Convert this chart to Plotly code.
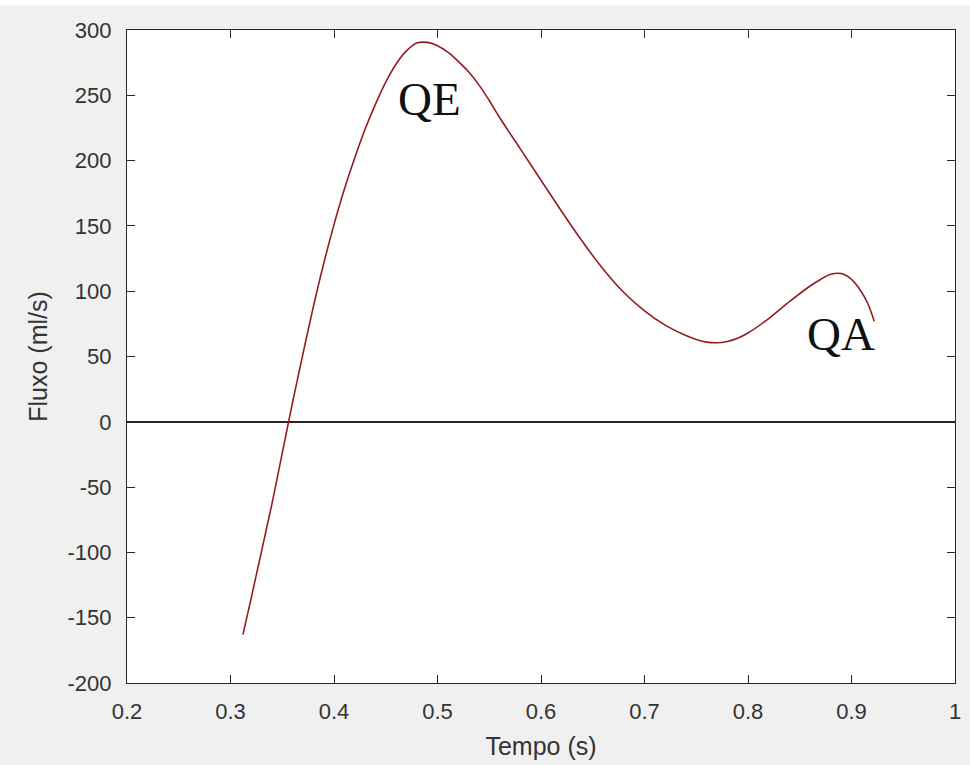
import plotly.graph_objects as go

# Data
tempo = [0.312, 0.320, 0.330, 0.340, 0.350, 0.360, 0.370, 0.380, 0.390,
         0.400, 0.410, 0.420, 0.430, 0.440, 0.450, 0.460, 0.470, 0.480,
         0.490, 0.500, 0.510, 0.520, 0.530, 0.540, 0.550, 0.560, 0.580, 0.600,
         0.620, 0.640, 0.660, 0.680, 0.700, 0.720, 0.740, 0.750, 0.760, 0.770,
         0.780, 0.790, 0.800, 0.820, 0.840, 0.860, 0.870, 0.880, 0.890, 0.900,
         0.910, 0.916, 0.922]
fluxo = [-163, -135, -99, -63, -24, 15, 52, 88, 121,
         151, 178, 202, 224, 243, 260, 274, 284, 290,
         290.5, 288, 283, 276, 268, 258, 246, 233, 209, 185,
         161, 138, 117, 99, 85, 74, 66, 63, 61, 60.5,
         61.5, 64, 68, 79, 92, 104, 109, 113, 113.5, 109,
         99, 90, 77]

x_ticks = [0.2, 0.3, 0.4, 0.5, 0.6, 0.7, 0.8, 0.9, 1.0]
x_tick_labels = ["0.2", "0.3", "0.4", "0.5", "0.6", "0.7", "0.8", "0.9", "1"]
y_ticks = [-200, -150, -100, -50, 0, 50, 100, 150, 200, 250, 300]
y_tick_labels = ["-200", "-150", "-100", "-50", "0", "50", "100", "150", "200", "250", "300"]

labels = ["QE", "QA"]
label_x = [0.492, 0.890]
label_y = [247, 67]

fig = go.Figure()
fig.add_trace(go.Scatter(
    x=tempo, y=fluxo, mode="lines",
    line=dict(color="#951c1f", width=1.6, shape="spline", smoothing=1.0),
    showlegend=False, hoverinfo="skip"))

for t, lx, ly in zip(labels, label_x, label_y):
    fig.add_annotation(x=lx, y=ly, text=t, showarrow=False,
                       font=dict(family="Liberation Serif", size=47, color="#111111"),
                       xanchor="center", yanchor="middle")

axis_common = dict(
    showline=True, linecolor="#262626", linewidth=1.3, mirror="ticks",
    ticks="inside", ticklen=8, tickwidth=1.2, tickcolor="#262626",
    showgrid=False, automargin=False,
    tickfont=dict(family="Liberation Sans", size=22, color="#333333"),
)

fig.update_xaxes(range=[0.2, 1.0], tickvals=x_ticks, ticktext=x_tick_labels,
                 zeroline=False, ticklabelstandoff=8,
                 title=dict(text="Tempo (s)", standoff=14,
                            font=dict(family="Liberation Sans", size=25, color="#333333")),
                 **axis_common)
fig.update_yaxes(range=[-200, 300], tickvals=y_ticks, ticktext=y_tick_labels,
                 zeroline=True, zerolinecolor="#262626", zerolinewidth=1.6,
                 ticklabelstandoff=10,
                 title=dict(text="Fluxo (ml/s)", standoff=12,
                            font=dict(family="Liberation Sans", size=25, color="#333333")),
                 **axis_common)

fig.update_layout(
    width=970, height=765,
    margin=dict(l=127, r=15, t=30, b=82),
    paper_bgcolor="#f0f0f0", plot_bgcolor="#ffffff",
    shapes=[
        dict(type="rect", xref="paper", yref="paper", x0=-0.2, x1=1.05,
             y0=1.037, y1=1.06, line=dict(width=0), fillcolor="#ffffff", layer="above")
    ],
)

fig.write_html("out.html")
